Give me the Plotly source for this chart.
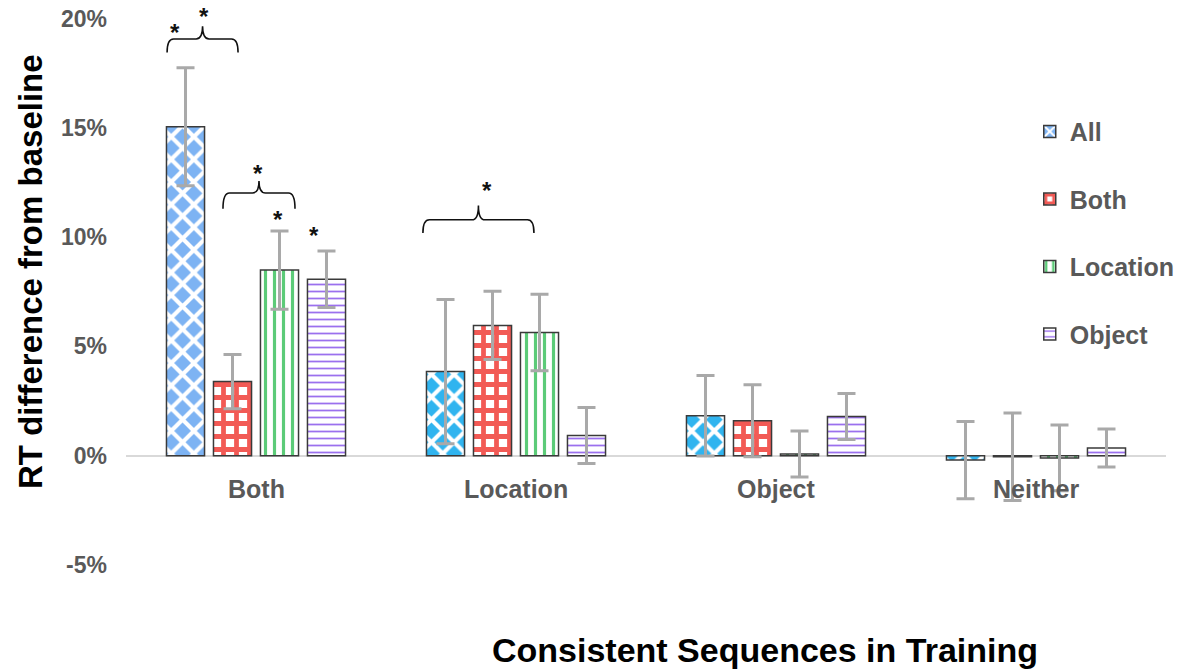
import plotly.graph_objects as go

# Training condition groups on the x axis
categories = ["Both", "Location", "Object", "Neither"]
series_names = ["All", "Both", "Location", "Object"]

# RT difference from baseline (%) and error (±%)
all_vals = [15.05, 3.85, 1.83, -0.2]
all_err = [2.7, 3.3, 1.84, 1.77]
both_vals = [3.39, 5.96, 1.6, -0.05]
both_err = [1.24, 1.56, 1.65, 2.0]
loc_vals = [8.49, 5.64, 0.08, -0.1]
loc_err = [1.79, 1.75, 1.05, 1.5]
obj_vals = [8.07, 0.92, 1.79, 0.35]
obj_err = [1.29, 1.28, 1.05, 0.87]

y_ticks = [-5, 0, 5, 10, 15, 20]
y_ticklabels = ["-5%", "0%", "5%", "10%", "15%", "20%"]

# Significance braces: (x0, x1, y of bar, drop of ends, rise of tip), x in category units
braces = [
    (-0.342, -0.069, 19.06, 0.62, 0.58),
    (-0.127, 0.150, 12.02, 0.72, 0.55),
    (0.642, 1.069, 10.79, 0.60, 0.66),
]
# Asterisks: (x, y)
stars = [
    (-0.312, 19.5),
    (-0.200, 20.25),
    (0.006, 13.05),
    (0.085, 10.95),
    (0.223, 10.2),
    (0.888, 12.25),
]

values = [all_vals, both_vals, loc_vals, obj_vals]
errors = [all_err, both_err, loc_err, obj_err]

# Fill patterns per series: diamonds, checks, vertical and horizontal stripes
pattern_shape = ["x", "+", "|", "-"]
pattern_fg = ["white", "#f25a55", "#5ccb78", "#9b70ee"]
pattern_bg = [
    ["#7db3f3", "#30b4ef", "#30b4ef", "#30b4ef"],
    "white",
    "white",
    "white",
]
pattern_size = [16, 13, 9, 7]
pattern_solid = [0.45, 0.6, 0.35, 0.25]

x_pos = list(range(len(categories)))

fig = go.Figure()
for i, name in enumerate(series_names):
    fig.add_trace(go.Bar(
        name=name,
        x=x_pos,
        y=values[i],
        legendgroup=name,
        marker=dict(
            color="white",
            line=dict(color="#3a3a3a", width=1.5),
            pattern=dict(
                shape=pattern_shape[i],
                fgcolor=pattern_fg[i],
                bgcolor=pattern_bg[i],
                size=pattern_size[i],
                solidity=pattern_solid[i],
                fillmode="replace",
            ),
        ),
        error_y=dict(type="data", array=errors[i], visible=True,
                     color="#a9a9a9", thickness=3, width=9),
    ))

font_family = "Liberation Sans, Arial, sans-serif"
gray = "#595959"

annotations = []
for i, c in enumerate(categories):
    annotations.append(dict(
        x=i, y=0, xref="x", yref="y", text=c, showarrow=False,
        yanchor="middle", yshift=-33,
        font=dict(family=font_family, size=25, color=gray, weight="bold"),
    ))
for sx, sy in stars:
    annotations.append(dict(
        x=sx, y=sy, xref="x", yref="y", text="*", showarrow=False,
        yanchor="middle", yshift=-3,
        font=dict(family=font_family, size=24, color="#111111", weight="bold"),
    ))
annotations.append(dict(
    x=-0.0923, y=0.5195, xref="paper", yref="paper",
    text="RT difference from baseline", textangle=-90, showarrow=False,
    xanchor="center", yanchor="middle",
    font=dict(family=font_family, size=33, color="black", weight="bold"),
))
annotations.append(dict(
    x=0.614, y=-0.1507, xref="paper", yref="paper",
    text="Consistent Sequences in Training", showarrow=False,
    xanchor="center", yanchor="middle",
    font=dict(family=font_family, size=34, color="black", weight="bold"),
))

shapes = []
for x0, x1, yh, drop, rise in braces:
    xc = (x0 + x1) / 2
    dx = 0.025
    path = (f"M {x0},{yh - drop} Q {x0},{yh} {x0 + dx},{yh} "
            f"L {xc - dx},{yh} Q {xc},{yh} {xc},{yh + rise} "
            f"Q {xc},{yh} {xc + dx},{yh} "
            f"L {x1 - dx},{yh} Q {x1},{yh} {x1},{yh - drop}")
    shapes.append(dict(type="path", path=path, xref="x", yref="y",
                       line=dict(color="#111111", width=1.6)))

fig.update_layout(
    width=1190, height=671,
    margin=dict(l=126, r=24, t=1, b=106),
    paper_bgcolor="white", plot_bgcolor="white",
    barmode="group", bargap=0.277, bargroupgap=0.19,
    showlegend=True,
    legend=dict(
        x=0.869, y=0.809, xanchor="left", yanchor="top",
        font=dict(family=font_family, size=25, color=gray, weight="bold"),
        bgcolor="rgba(0,0,0,0)", tracegroupgap=32,
    ),
    xaxis=dict(range=[-0.5, 3.5], showticklabels=False, showgrid=False,
               zeroline=False, showline=False, ticks=""),
    yaxis=dict(range=[-5, 20.8], tickvals=y_ticks, ticktext=y_ticklabels,
               showgrid=False, zeroline=True, zerolinecolor="#d9d9d9",
               zerolinewidth=1.5, showline=False, ticks="",
               ticklabelstandoff=18,
               tickfont=dict(family=font_family, size=23, color=gray, weight="bold")),
    annotations=annotations,
    shapes=shapes,
)

fig.write_html("out.html")
